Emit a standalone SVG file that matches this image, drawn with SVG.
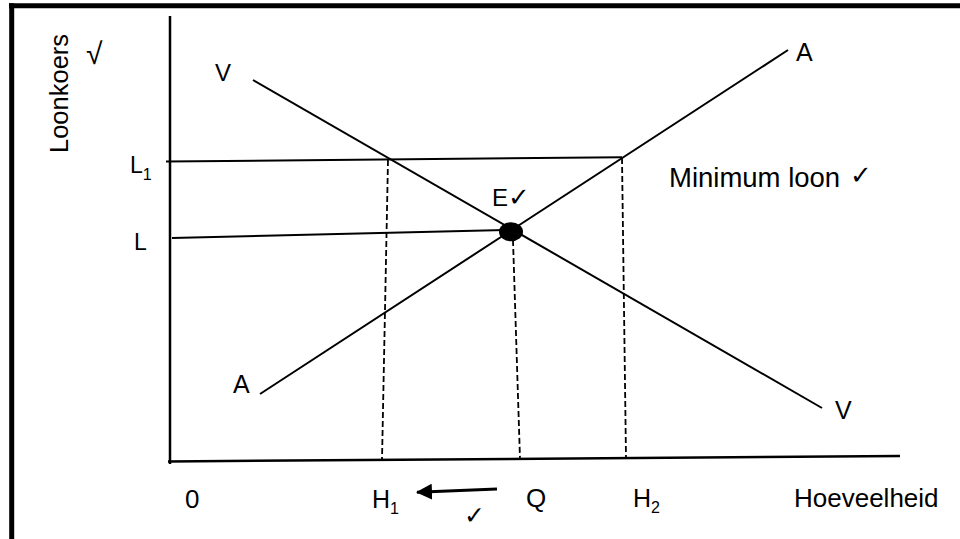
<svg xmlns="http://www.w3.org/2000/svg" width="960" height="539" viewBox="0 0 960 539">
<defs>
<style>
.t{font-family:"Liberation Sans","DejaVu Sans",sans-serif;fill:#000}
.ln{stroke:#000;stroke-width:2;fill:none}
.ax{stroke:#000;stroke-width:2.5;fill:none}
.ds{stroke:#000;stroke-width:1.8;fill:none;stroke-dasharray:6 3}
.ck{font-family:"DejaVu Sans",sans-serif;fill:#000}
</style>
<marker id="ah" markerWidth="16" markerHeight="16" viewBox="0 0 16 16" refX="15" refY="8" orient="auto" markerUnits="userSpaceOnUse">
<path d="M0,0 L16,8 L0,16 Z" fill="#000"/>
</marker>
</defs>
<rect width="960" height="539" fill="#fff"/>
<g id="frame">
<line x1="9" y1="5.7" x2="960" y2="5.7" stroke="#000" stroke-width="5"/>
<line x1="11.7" y1="3.2" x2="11.7" y2="539" stroke="#000" stroke-width="5"/>
</g>
<g id="connectors">
<line class="ax" x1="170" y1="16" x2="170" y2="464"/>
<line class="ax" x1="168" y1="461.5" x2="900" y2="456"/>
<line class="ln" x1="166" y1="161.5" x2="622" y2="157.3"/>
<line class="ln" x1="172" y1="238" x2="505" y2="230"/>
<line class="ln" x1="253" y1="80" x2="822" y2="408"/>
<line class="ln" x1="260" y1="394" x2="788" y2="50"/>
<line class="ds" x1="388" y1="160" x2="382" y2="460"/>
<line class="ds" x1="513" y1="240" x2="520" y2="459"/>
<line class="ds" x1="622" y1="158" x2="626" y2="458"/>
<line x1="497" y1="489" x2="417" y2="492.3" stroke="#000" stroke-width="3" marker-end="url(#ah)"/>
</g>
<g id="E">
<ellipse cx="511" cy="231.7" rx="12" ry="9.5" fill="#000"/>
<text class="t" x="492" y="206" font-size="24">E</text>
<text class="ck" x="508" y="206" font-size="26">✓</text>
</g>
<g id="labels">
<text class="t" font-size="25.5" transform="translate(68,153) rotate(-90)">Loonkoers</text>
<text class="t" x="86" y="64" font-size="30">√</text>
<text class="t" x="215" y="81" font-size="24">V</text>
<text class="t" x="796" y="61" font-size="25">A</text>
<text class="t" x="233" y="393" font-size="25">A</text>
<text class="t" x="835" y="419" font-size="25">V</text>
<text class="t" x="130" y="173" font-size="23">L<tspan font-size="16" dy="7">1</tspan></text>
<text class="t" x="134" y="250" font-size="23">L</text>
<text class="t" x="669" y="186.7" font-size="27.5">Minimum loon</text>
<text class="ck" x="850" y="184" font-size="26">✓</text>
<text class="t" x="185" y="508" font-size="26">0</text>
<text class="t" x="372" y="507.7" font-size="25">H<tspan font-size="16" dy="6">1</tspan></text>
<text class="ck" x="464" y="524" font-size="25">✓</text>
<text class="t" x="526" y="507" font-size="26">Q</text>
<text class="t" x="633" y="507" font-size="25">H<tspan font-size="16" dy="6">2</tspan></text>
<text class="t" x="794" y="506.7" font-size="26">Hoeveelheid</text>
</g>
</svg>
